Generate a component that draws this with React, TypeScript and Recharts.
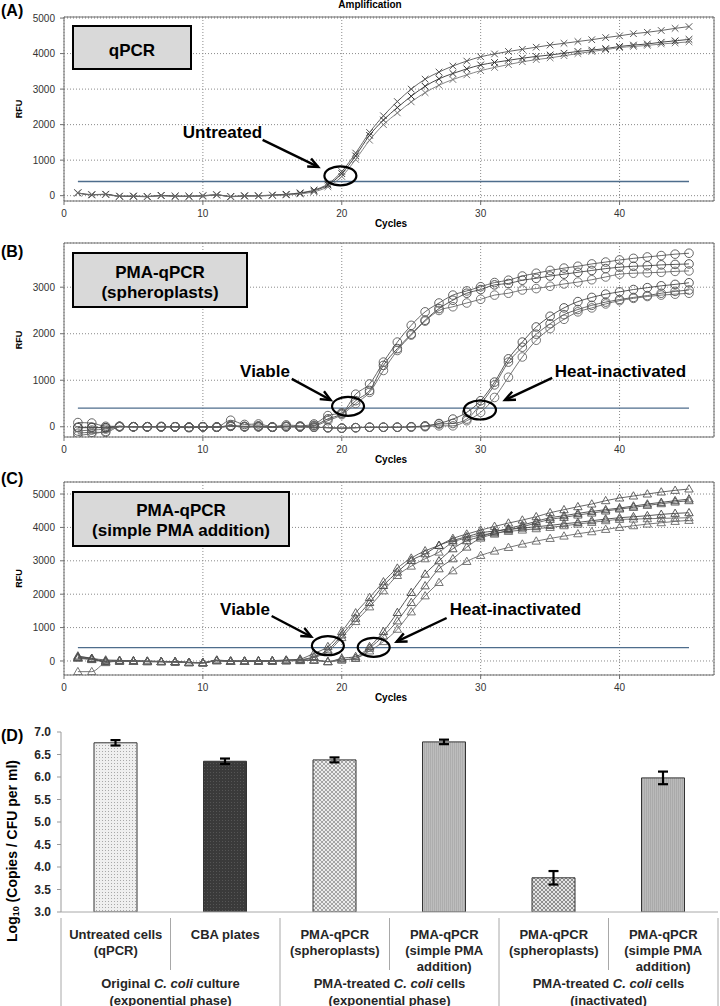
import React from 'react';
import {
  LineChart, Line, XAxis, YAxis, CartesianGrid, ReferenceLine, ReferenceDot,
  BarChart, Bar, Cell, ErrorBar,
} from 'recharts';

const FONT = '"Liberation Sans", Arial, Helvetica, sans-serif';

// ---------- shared amplification axis ----------
const CYCLES = [1, 2, 3, 4, 5, 6, 7, 8, 9, 10, 11, 12, 13, 14, 15, 16, 17, 18, 19, 20, 21, 22, 23, 24, 25, 26, 27, 28, 29, 30, 31, 32, 33, 34, 35, 36, 37, 38, 39, 40, 41, 42, 43, 44, 45];
const X_MAJOR_TICKS = [0, 10, 20, 30, 40];
const THRESHOLD = 400;

// ---------- (A) qPCR, untreated ----------
const A_UNTREATED_1 = [80, 30, 40, -10, -10, -20, 0, -20, -10, 0, 30, -30, 0, 0, 20, 40, 80, 160, 330, 680, 1200, 1780, 2250, 2650, 3000, 3280, 3480, 3650, 3790, 3910, 3990, 4060, 4120, 4180, 4240, 4290, 4340, 4390, 4450, 4500, 4560, 4600, 4650, 4710, 4760];
const A_UNTREATED_2 = [80, 20, 40, -20, -20, -30, 10, -10, -20, -10, 20, -20, -10, -10, 10, 30, 70, 140, 300, 620, 1120, 1700, 2130, 2480, 2800, 3080, 3290, 3440, 3570, 3680, 3750, 3810, 3870, 3920, 3960, 4010, 4060, 4100, 4140, 4200, 4240, 4270, 4320, 4360, 4400];
const A_UNTREATED_3 = [70, 30, 30, -20, -10, -30, 0, -20, -20, -10, 20, -30, -10, 0, 10, 20, 50, 110, 250, 540, 1020, 1560, 2000, 2330, 2640, 2900, 3110, 3270, 3400, 3520, 3610, 3690, 3770, 3830, 3880, 3940, 4000, 4060, 4110, 4170, 4200, 4230, 4270, 4300, 4330];
const A_Y_TICKS = [0, 1000, 2000, 3000, 4000, 5000];

// ---------- (B) PMA-qPCR spheroplasts ----------
const B_VIABLE_1 = [90, 80, 10, 10, 0, 0, 0, 0, -10, 0, 0, 140, 50, 60, 0, 40, 20, 60, 240, 300, 700, 920, 1390, 1820, 2180, 2470, 2660, 2830, 2920, 3010, 3100, 3150, 3240, 3300, 3360, 3410, 3450, 3500, 3540, 3585, 3620, 3650, 3680, 3710, 3730];
const B_VIABLE_2 = [-20, -20, -20, 10, 0, 0, 0, 0, -20, 0, -10, 30, 10, 20, -10, 10, 0, 30, 170, 280, 560, 780, 1320, 1680, 1990, 2290, 2540, 2720, 2870, 2950, 3050, 3080, 3150, 3190, 3240, 3280, 3320, 3360, 3400, 3430, 3450, 3460, 3480, 3490, 3500];
const B_VIABLE_3 = [-90, -70, -50, 0, 0, 0, 10, 0, -10, 0, -10, 20, 0, 10, -10, 10, 0, 20, 130, 260, 500, 740, 1210, 1640, 1970, 2270, 2500, 2580, 2660, 2740, 2830, 2870, 2940, 2970, 3020, 3070, 3110, 3160, 3220, 3280, 3300, 3310, 3320, 3340, 3350];
const B_HEAT_1 = [-10, -10, -20, 0, 0, 0, 0, 0, -10, 0, -10, 10, 0, 0, -10, 0, 0, -10, -20, -30, -20, -10, -10, -10, 0, 20, 70, 165, 310, 560, 960, 1460, 1820, 2145, 2375, 2555, 2690, 2780, 2850, 2900, 2950, 2990, 3030, 3060, 3095];
const B_HEAT_2 = [-140, -120, -120, 0, 0, 0, 0, 0, -10, 0, -10, 10, 0, 0, -10, 0, 0, -10, -20, -30, -20, -10, -10, -10, 0, 10, 60, 70, 165, 490, 900, 1390, 1710, 1990, 2215, 2410, 2520, 2610, 2680, 2735, 2780, 2820, 2870, 2910, 2940];
const B_HEAT_3 = [-190, -150, -100, 10, 0, 0, 0, 0, -10, 0, -10, 10, 0, 0, -10, 0, 0, -10, -20, -30, -20, -10, -10, -10, -10, 0, 20, 20, 130, 310, 630, 1065, 1500, 1860, 2110, 2310, 2470, 2555, 2640, 2710, 2760, 2800, 2830, 2850, 2870];
const B_Y_TICKS = [0, 1000, 2000, 3000];

// ---------- (C) PMA-qPCR simple PMA addition ----------
const C_VIABLE_1 = [150, 80, 30, 20, 0, 0, -10, -20, -50, -50, 30, 0, 0, 0, 0, 20, 60, 230, 430, 880, 1440, 1900, 2370, 2780, 3080, 3300, 3460, 3670, 3800, 3920, 4030, 4130, 4220, 4320, 4440, 4530, 4620, 4700, 4800, 4880, 4940, 5000, 5060, 5110, 5150];
const C_VIABLE_2 = [100, 50, 0, 10, 0, -10, -20, -30, -40, -60, 10, 0, -10, 0, 10, 30, 40, 130, 330, 780, 1280, 1750, 2260, 2660, 3010, 3210, 3460, 3610, 3720, 3840, 3890, 3940, 3980, 4020, 4060, 4110, 4150, 4200, 4250, 4290, 4320, 4350, 4390, 4420, 4440];
const C_VIABLE_3 = [80, 40, -20, 0, -10, -20, -20, -30, -50, -50, 20, -10, 0, 0, 0, 20, 30, 110, 280, 700, 1180, 1620, 2100, 2560, 2840, 3060, 3260, 3560, 3680, 3770, 3830, 3880, 3920, 3960, 4000, 4050, 4100, 4150, 4200, 4240, 4250, 4260, 4270, 4280, 4290];
const C_HEAT_1 = [120, 80, -20, 0, 0, -10, -20, -20, -40, -50, 10, -10, -10, 0, 0, 10, 20, 30, -20, 80, 130, 430, 880, 1450, 2050, 2600, 3000, 3360, 3600, 3720, 3860, 3970, 4070, 4180, 4290, 4350, 4420, 4480, 4530, 4580, 4640, 4700, 4750, 4800, 4850];
const C_HEAT_2 = [100, 60, -30, -10, -10, -20, -20, -30, -50, -60, 10, -10, -10, -10, 0, 0, 10, 20, -20, 30, 80, 380, 750, 1200, 1750, 2250, 2760, 3060, 3410, 3680, 3800, 3920, 4020, 4130, 4240, 4300, 4370, 4430, 4490, 4550, 4600, 4660, 4710, 4760, 4800];
const C_HEAT_3 = [-320, -320, -50, 0, -10, -20, -20, -30, -50, -50, 10, -10, -10, 0, 0, 10, 20, 20, -20, 30, 80, 300, 580, 950, 1470, 1950, 2350, 2700, 2980, 3160, 3290, 3400, 3500, 3590, 3670, 3740, 3810, 3870, 3940, 4000, 4050, 4100, 4140, 4180, 4210];
const C_Y_TICKS = [0, 1000, 2000, 3000, 4000, 5000];

// ---------- annotation anchors (data coordinates) ----------
const A_ELLIPSES = [{ x: 19.9, y: 560 }];
const A_ARROWS = [{ x1: 14.3, y1: 1570, x2: 18.3, y2: 810 }];
const B_ELLIPSES = [{ x: 20.45, y: 440 }, { x: 29.95, y: 360 }];
const B_ARROWS = [{ x1: 16.4, y1: 1030, x2: 19.2, y2: 575 }, { x1: 35.15, y1: 1050, x2: 31.75, y2: 575 }];
const C_ELLIPSES = [{ x: 19.0, y: 457 }, { x: 22.3, y: 409 }];
const C_ARROWS = [{ x1: 14.95, y1: 1347, x2: 17.8, y2: 727 }, { x1: 27.55, y1: 1287, x2: 23.95, y2: 577 }];

// ---------- (D) bar chart ----------
const BAR_CATEGORIES = ['untreated', 'cba', 'expSpheroplasts', 'expSimple', 'inactSpheroplasts', 'inactSimple'];
const BAR_VALUES = [6.76, 6.35, 6.38, 6.78, 3.76, 5.98];
const BAR_ERRORS = [0.06, 0.06, 0.055, 0.05, 0.15, 0.14];
const BAR_FILLS = ['url(#pDots)', 'url(#pDark)', 'url(#pHatch)', 'url(#pVert)', 'url(#pHatch2)', 'url(#pVert2)'];
const CATEGORY_LABELS = [
  ['Untreated cells', '(qPCR)'],
  ['CBA plates'],
  ['PMA-qPCR', '(spheroplasts)'],
  ['PMA-qPCR', '(simple PMA', 'addition)'],
  ['PMA-qPCR', '(spheroplasts)'],
  ['PMA-qPCR', '(simple PMA', 'addition)'],
];
const GROUP_LINE1 = [
  ['Original ', 'C. coli', ' culture'],
  ['PMA-treated ', 'C. coli', ' cells'],
  ['PMA-treated ', 'C. coli', ' cells'],
];
const GROUP_LINE2 = ['(exponential phase)', '(exponential phase)', '(inactivated)'];
const D_Y_TICKS = [3.0, 3.5, 4.0, 4.5, 5.0, 5.5, 6.0, 6.5, 7.0];

// ---------- helpers ----------
function tickRange(start: number, stop: number, step: number): number[] {
  const out: number[] = [];
  for (let v = start; v <= stop + 1e-9; v += step) out.push(v);
  return out;
}
const X_DOMAIN: [number, number] = [0, 46.8];
const X_MINOR_TICKS = tickRange(0, 46, 2);

function buildRows(series: number[][]) {
  return CYCLES.map((c, i) => {
    const row: Record<string, number> = { cycle: c };
    series.forEach((s, k) => { row[`s${k}`] = s[i]; });
    return row;
  });
}

type Marker = 'x' | 'circle' | 'triangle';

const makeDot = (marker: Marker, color: string) => (p: any) => {
  const { cx, cy, index } = p;
  if (cx == null || cy == null || Number.isNaN(cx) || Number.isNaN(cy)) return <g key={`n${index}`} />;
  if (marker === 'x') {
    const h = 3.3;
    return (
      <path key={`m${index}`} d={`M${cx - h},${cy - h}L${cx + h},${cy + h}M${cx - h},${cy + h}L${cx + h},${cy - h}`}
        stroke={color} strokeWidth={1} fill="none" />
    );
  }
  if (marker === 'circle') {
    return <circle key={`m${index}`} cx={cx} cy={cy} r={4.3} stroke={color} strokeWidth={0.9} fill="none" />;
  }
  return (
    <path key={`m${index}`} d={`M${cx},${cy - 4.3}L${cx + 4.2},${cy + 3}L${cx - 4.2},${cy + 3}Z`}
      stroke={color} strokeWidth={0.9} fill="none" />
  );
};

const ellipseShape = (p: any) => (
  <ellipse cx={p.cx} cy={p.cy} rx={16} ry={9.5} fill="none" stroke="#000" strokeWidth={2.2} />
);

const arrowShape = (p: any) => {
  const { x1, y1, x2, y2 } = p;
  const a = Math.atan2(y2 - y1, x2 - x1);
  const len = 11;
  const spread = 0.42;
  const hx1 = x2 - len * Math.cos(a - spread);
  const hy1 = y2 - len * Math.sin(a - spread);
  const hx2 = x2 - len * Math.cos(a + spread);
  const hy2 = y2 - len * Math.sin(a + spread);
  return (
    <g>
      <line x1={x1} y1={y1} x2={x2} y2={y2} stroke="#000" strokeWidth={2.4} />
      <path d={`M${hx1},${hy1}L${x2},${y2}L${hx2},${hy2}`} fill="none" stroke="#000" strokeWidth={2.4} />
    </g>
  );
};

interface PanelProps {
  top: number;
  height: number;
  margin: { top: number; right: number; bottom: number; left: number };
  series: number[][];
  strokes: string[];
  marker: Marker;
  yDomain: [number, number];
  yTicks: number[];
  ellipses: { x: number; y: number }[];
  arrows: { x1: number; y1: number; x2: number; y2: number }[];
}

const FRAME = '#6e6e6e';

function AmpPanel(props: PanelProps) {
  const { top, height, margin, series, strokes, marker, yDomain, yTicks, ellipses, arrows } = props;
  const data = buildRows(series);
  const yMinor = tickRange(Math.ceil(yDomain[0] / 200) * 200, yDomain[1], 200);
  return (
    <div style={{ position: 'absolute', left: 0, top }}>
      <LineChart width={720} height={height} data={data} margin={margin}>
        <CartesianGrid stroke="#8a8a8a" strokeDasharray="1 2" />
        <XAxis dataKey="cycle" type="number" domain={X_DOMAIN} allowDataOverflow ticks={X_MAJOR_TICKS}
          interval={0} height={20} tickSize={4} tickMargin={4.4}
          axisLine={{ stroke: FRAME }} tickLine={{ stroke: FRAME }} tick={{ fontSize: 10, fill: '#333' }} />
        <XAxis xAxisId="top" orientation="top" mirror type="number" domain={X_DOMAIN} allowDataOverflow
          ticks={X_MINOR_TICKS} interval={0} tick={false} tickSize={4}
          axisLine={{ stroke: FRAME }} tickLine={{ stroke: FRAME }} />
        <XAxis xAxisId="minorBottom" orientation="bottom" mirror type="number" domain={X_DOMAIN} allowDataOverflow
          ticks={X_MINOR_TICKS} interval={0} tick={false} tickSize={4} axisLine={false}
          tickLine={{ stroke: FRAME }} />
        <YAxis type="number" domain={yDomain} allowDataOverflow ticks={yTicks} interval={0} width={64}
          tickSize={4} tickMargin={5} axisLine={{ stroke: FRAME }} tickLine={{ stroke: FRAME }}
          tick={{ fontSize: 10, fill: '#333' }} />
        <YAxis yAxisId="minorLeft" orientation="left" mirror type="number" domain={yDomain} allowDataOverflow
          ticks={yMinor} interval={0} tick={false} tickSize={-4} axisLine={false} tickLine={{ stroke: FRAME }} />
        <YAxis yAxisId="right" orientation="right" mirror type="number" domain={yDomain} allowDataOverflow
          ticks={yTicks} interval={0} tick={false} tickSize={4} axisLine={{ stroke: FRAME }}
          tickLine={{ stroke: FRAME }} />
        <ReferenceLine segment={[{ x: 1, y: THRESHOLD }, { x: 45, y: THRESHOLD }]} stroke="#4e6d8c" strokeWidth={1.4} />
        {series.map((_, k) => (
          <Line key={`s${k}`} dataKey={`s${k}`} type="monotone" stroke={strokes[k]} strokeWidth={0.9}
            dot={makeDot(marker, strokes[k])} activeDot={false} isAnimationActive={false} />
        ))}
        {ellipses.map((e, k) => (
          <ReferenceDot key={`e${k}`} x={e.x} y={e.y} r={1} shape={ellipseShape} />
        ))}
        {arrows.map((a, k) => (
          <ReferenceLine key={`a${k}`} segment={[{ x: a.x1, y: a.y1 }, { x: a.x2, y: a.y2 }]} shape={arrowShape} />
        ))}
      </LineChart>
    </div>
  );
}

// ---------- bar chart ----------
const D_PLOT_LEFT = 61;
const D_PLOT_RIGHT = 718;
const D_BAND = (D_PLOT_RIGHT - D_PLOT_LEFT) / BAR_CATEGORIES.length;
const SEP = '#a8a8a8';

function CategoryTick(props: any) {
  const { x, y, payload } = props;
  const idx = BAR_CATEGORIES.indexOf(payload.value);
  if (idx < 0) return <g />;
  const left = x - D_BAND / 2;
  const right = x + D_BAND / 2;
  const groupStart = idx % 2 === 0;
  const last = idx === BAR_CATEGORIES.length - 1;
  const g = Math.floor(idx / 2);
  return (
    <g>
      <line x1={left} x2={left} y1={y} y2={y + (groupStart ? 95 : 52)} stroke={SEP} />
      {last && <line x1={right} x2={right} y1={y} y2={y + 95} stroke={SEP} />}
      <text textAnchor="middle" fontSize={13} fontWeight="bold" fill="#262626">
        {CATEGORY_LABELS[idx].map((t, k) => (
          <tspan key={k} x={x} y={y + 20.5 + k * 16}>{t}</tspan>
        ))}
      </text>
      {groupStart && (
        <text textAnchor="middle" fontSize={13} fontWeight="bold" fill="#262626">
          <tspan x={right} y={y + 69.5}>
            {GROUP_LINE1[g][0]}
            <tspan fontStyle="italic">{GROUP_LINE1[g][1]}</tspan>
            {GROUP_LINE1[g][2]}
          </tspan>
          <tspan x={right} y={y + 86.5}>{GROUP_LINE2[g]}</tspan>
        </text>
      )}
    </g>
  );
}

function BarPanel() {
  const data = BAR_CATEGORIES.map((c, i) => ({ cat: c, value: BAR_VALUES[i], err: BAR_ERRORS[i] }));
  return (
    <div style={{ position: 'absolute', left: 0, top: 700 }}>
      <BarChart width={720} height={306} data={data} margin={{ top: 32, right: 720 - D_PLOT_RIGHT, bottom: 0, left: 0 }}>
        <defs>
          <pattern id="pDots" width="3" height="3" patternUnits="userSpaceOnUse">
            <rect width="3" height="3" fill="#efefef" />
            <rect width="1" height="1" fill="#a8a8a8" />
          </pattern>
          <pattern id="pDark" width="3" height="3" patternUnits="userSpaceOnUse">
            <rect width="3" height="3" fill="#3a3a3a" />
            <rect width="1" height="1" fill="#555" />
          </pattern>
          <pattern id="pHatch" width="4" height="4" patternUnits="userSpaceOnUse">
            <rect width="4" height="4" fill="#ececec" />
            <path d="M0,0L4,4M4,0L0,4" stroke="#939393" strokeWidth="0.8" />
          </pattern>
          <pattern id="pHatch2" width="4" height="4" patternUnits="userSpaceOnUse">
            <rect width="4" height="4" fill="#e4e4e4" />
            <path d="M0,0L4,4M4,0L0,4" stroke="#858585" strokeWidth="0.9" />
          </pattern>
          <pattern id="pVert" width="2" height="2" patternUnits="userSpaceOnUse">
            <rect width="2" height="2" fill="#bdbdbd" />
            <rect width="1" height="2" fill="#adadad" />
          </pattern>
          <pattern id="pVert2" width="2" height="2" patternUnits="userSpaceOnUse">
            <rect width="2" height="2" fill="#bababa" />
            <rect width="1" height="2" fill="#aaaaaa" />
          </pattern>
        </defs>
        <XAxis dataKey="cat" type="category" height={94} interval={0} tickLine={false} tickMargin={0}
          axisLine={{ stroke: SEP }} tick={(p: any) => <CategoryTick {...p} />} />
        <YAxis type="number" domain={[3, 7]} allowDataOverflow ticks={D_Y_TICKS} interval={0} width={D_PLOT_LEFT}
          tickSize={4} tickMargin={6} tickFormatter={(v: number) => v.toFixed(1)}
          axisLine={{ stroke: '#999' }} tickLine={{ stroke: '#999' }}
          tick={{ fontSize: 12, fontWeight: 'bold', fill: '#262626' }} />
        <Bar dataKey="value" barSize={43} stroke="#333" strokeWidth={1} isAnimationActive={false}>
          {data.map((d, i) => <Cell key={d.cat} fill={BAR_FILLS[i]} />)}
          <ErrorBar dataKey="err" width={5} strokeWidth={2.2} stroke="#000" direction="y" />
        </Bar>
      </BarChart>
    </div>
  );
}

// ---------- overlay texts ----------
function Overlay() {
  const bold = { fontWeight: 'bold' as const, fill: '#000' };
  const rfu = (cy: number) => (
    <text x={19} y={cy} transform={`rotate(-90 19 ${cy})`} textAnchor="middle" dominantBaseline="central"
      fontSize={9} {...bold}>RFU</text>
  );
  const cycles = (by: number) => (
    <text x={391} y={by} textAnchor="middle" fontSize={10} {...bold}>Cycles</text>
  );
  return (
    <svg width={720} height={1006} style={{ position: 'absolute', left: 0, top: 0, pointerEvents: 'none' }}>
      <text x={370} y={8} textAnchor="middle" fontSize={10} {...bold}>Amplification</text>

      <text x={1} y={15.5} fontSize={16} {...bold}>(A)</text>
      <text x={1} y={256.5} fontSize={16} {...bold}>(B)</text>
      <text x={1} y={483.5} fontSize={16} {...bold}>(C)</text>
      <text x={1} y={741} fontSize={16} {...bold}>(D)</text>

      {rfu(109)}
      {rfu(340)}
      {rfu(578.5)}
      {cycles(227)}
      {cycles(463)}
      {cycles(701)}

      <rect x={73} y={26} width={118} height={43} fill="#d9d9d9" stroke="#000" strokeWidth={2} />
      <text x={132} y={55.5} textAnchor="middle" fontSize={17} {...bold}>qPCR</text>

      <rect x={73} y={253} width={174} height={54} fill="#d9d9d9" stroke="#000" strokeWidth={2} />
      <text x={160} y={278} textAnchor="middle" fontSize={17} {...bold}>PMA-qPCR</text>
      <text x={160} y={297.5} textAnchor="middle" fontSize={17} {...bold}>(spheroplasts)</text>

      <rect x={73} y={492} width={216} height={54} fill="#d9d9d9" stroke="#000" strokeWidth={2} />
      <text x={181} y={516} textAnchor="middle" fontSize={17} {...bold}>PMA-qPCR</text>
      <text x={181} y={535.5} textAnchor="middle" fontSize={17} {...bold}>(simple PMA addition)</text>

      <text x={222.5} y={137.5} textAnchor="middle" fontSize={17} {...bold}>Untreated</text>
      <text x={265} y={376.5} textAnchor="middle" fontSize={17} {...bold}>Viable</text>
      <text x={620.5} y={376.5} textAnchor="middle" fontSize={17} {...bold}>Heat-inactivated</text>
      <text x={245} y={615} textAnchor="middle" fontSize={17} {...bold}>Viable</text>
      <text x={515.5} y={615} textAnchor="middle" fontSize={17} {...bold}>Heat-inactivated</text>

      <text x={12} y={851} transform="rotate(-90 12 851)" textAnchor="middle" dominantBaseline="central"
        fontSize={14} {...bold}>
        Log<tspan fontSize={9} dy={4}>10</tspan><tspan dy={-4}> (Copies / CFU per ml)</tspan>
      </text>
    </svg>
  );
}

export default function App() {
  return (
    <div style={{ position: 'absolute', left: 0, top: 0, width: 720, height: 1006, background: '#fff', overflow: 'hidden', fontFamily: FONT }}>
      <AmpPanel top={0} height={232} margin={{ top: 17, right: 6, bottom: 11, left: 0 }}
        series={[A_UNTREATED_1, A_UNTREATED_2, A_UNTREATED_3]} strokes={['#555', '#333', '#777']} marker="x"
        yDomain={[-150, 5030]} yTicks={A_Y_TICKS} ellipses={A_ELLIPSES} arrows={A_ARROWS} />
      <AmpPanel top={232} height={234} margin={{ top: 11, right: 6, bottom: 9, left: 0 }}
        series={[B_VIABLE_1, B_VIABLE_2, B_VIABLE_3, B_HEAT_1, B_HEAT_2, B_HEAT_3]}
        strokes={['#555', '#444', '#666', '#444', '#555', '#666']} marker="circle"
        yDomain={[-220, 3950]} yTicks={B_Y_TICKS} ellipses={B_ELLIPSES} arrows={B_ARROWS} />
      <AmpPanel top={466} height={234} margin={{ top: 16, right: 6, bottom: 5, left: 0 }}
        series={[C_VIABLE_1, C_VIABLE_2, C_VIABLE_3, C_HEAT_1, C_HEAT_2, C_HEAT_3]}
        strokes={['#555', '#444', '#666', '#444', '#555', '#666']} marker="triangle"
        yDomain={[-420, 5360]} yTicks={C_Y_TICKS} ellipses={C_ELLIPSES} arrows={C_ARROWS} />
      <BarPanel />
      <Overlay />
    </div>
  );
}
